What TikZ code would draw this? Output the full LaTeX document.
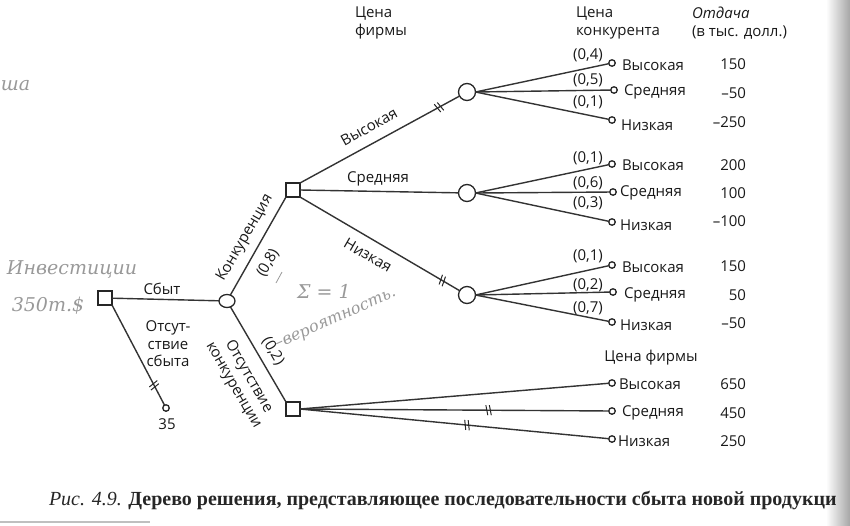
\documentclass[tikz,border=0pt]{standalone}
\usepackage{fontspec}
\setmainfont{Open Sans}
\newfontfamily\capfont{Liberation Serif}
\newfontfamily\handfont{DejaVu Serif}
\usetikzlibrary{shapes.geometric,decorations.markings}
\tikzset{
  every node/.style={inner sep=0pt, outer sep=0pt},
  txt/.style={font=\fontsize{15}{17.5}\selectfont, text=black!90},
  dec/.style={draw=black!85, rectangle, minimum size=14pt, line width=1.3pt},
  chance/.style={draw=black!85, circle, minimum size=17pt, line width=1.3pt},
  leaf/.style={draw=black!85, circle, minimum size=6.5pt, line width=1.3pt},
  br/.style={line width=1.4pt, draw=black!80},
  hash/.style={postaction={decorate, decoration={markings, mark=at position #1 with {\draw[line width=1pt, black!85] (-2.5,-5)--(-0.5,5) (1,-5)--(3,5);}}}},
  hand/.style={text=black!40, font=\handfont\itshape\fontsize{19}{22}\selectfont},
}
\begin{document}
\begin{tikzpicture}[x=1pt,y=-1pt]
\useasboundingbox (0,0) rectangle (850,525);
\shade[left color=white, right color=black!35] (826,0) rectangle (850,525);

% headers
\node[txt, anchor=west, align=left] (h1) at (355,23) {Цена\\фирмы};
\node[txt, anchor=west, align=left] (h2) at (576,23) {Цена\\конкурента};
\node[txt, anchor=west, align=left] (h3) at (692,23) {\itshape Отдача\\(в тыс. долл.)};

% main nodes
\node[dec] (root) at (105,298) {};
\node[draw=black!85, ellipse, minimum width=16pt, minimum height=13pt, line width=1.3pt] (s1) at (227,301) {};
\node[leaf] (l35) at (166,408) {};
\node[txt] (v35) at (167,424) {35};
\node[dec] (comp) at (293,190) {};
\node[dec] (nc) at (293,409) {};
\node[chance] (c1) at (467,92) {};
\node[chance] (c2) at (467,193) {};
\node[chance] (c3) at (467,295) {};

% leaves
\node[leaf] (l11) at (612,63) {};
\node[leaf] (l12) at (614,90) {};
\node[leaf] (l13) at (612,120) {};
\node[leaf] (l21) at (612,164) {};
\node[leaf] (l22) at (613,192) {};
\node[leaf] (l23) at (612,222) {};
\node[leaf] (l31) at (612,265) {};
\node[leaf] (l32) at (613,292) {};
\node[leaf] (l33) at (612,322) {};
\node[leaf] (n1) at (612,383) {};
\node[leaf] (n2) at (612,411) {};
\node[leaf] (n3) at (612,439) {};

% connectors
\draw[br] (root) -- (s1);
\draw[br, hash=0.8] (root.south east) -- (l35);
\draw[br] (s1) -- (comp.south west);
\draw[br] (s1) -- (nc.north west);
\draw[br, hash=0.87] (comp.north east) -- (c1);
\draw[br] (comp.east) -- (c2);
\draw[br, hash=0.89] (comp.south east) -- (c3);
\foreach \i in {1,2,3}{
  \draw[br] (c\i.east) -- (l\i1);
  \draw[br] (c\i.east) -- (l\i2);
  \draw[br] (c\i.east) -- (l\i3);
}
\draw[br] (nc.east) -- (n1);
\draw[br, hash=0.61] (nc.east) -- (n2);
\draw[br, hash=0.54] (nc.east) -- (n3);

% branch labels
\node[txt] (bsb) at (162,289) {Сбыт};
\node[txt, align=center] (bno) at (168,344) {Отсут-\\ствие\\сбыта};
\node[txt, rotate=60] (bk) at (245,238) {Конкуренция};
\node[txt, rotate=60] (p08) at (268,263) {(0,8)};
\node[txt, rotate=-60, align=center] (bnk) at (241,381) {Отсутствие\\конкуренции};
\node[txt, rotate=-60] (p02) at (273,351) {(0,2)};
\node[txt, rotate=29] (bv) at (369,127) {Высокая};
\node[txt] (bs) at (378,179) {Средняя};
\node[txt, rotate=-30] (bn) at (368,255) {Низкая};

% probabilities
\node[txt] (p11) at (588,55) {(0,4)};
\node[txt] (p12) at (588,80) {(0,5)};
\node[txt] (p13) at (588,102) {(0,1)};
\node[txt] (p21) at (588,158) {(0,1)};
\node[txt] (p22) at (588,183) {(0,6)};
\node[txt] (p23) at (588,203) {(0,3)};
\node[txt] (p31) at (588,256) {(0,1)};
\node[txt] (p32) at (588,285) {(0,2)};
\node[txt] (p33) at (588,308) {(0,7)};

% outcome labels
\node[txt, anchor=west] (t11) at (622,65) {Высокая};
\node[txt, anchor=west] (t12) at (624,92) {Средняя};
\node[txt, anchor=west] (t13) at (621,125) {Низкая};
\node[txt, anchor=west] (t21) at (622,165) {Высокая};
\node[txt, anchor=west] (t22) at (620,193) {Средняя};
\node[txt, anchor=west] (t23) at (620,225) {Низкая};
\node[txt, anchor=west] (t31) at (622,267) {Высокая};
\node[txt, anchor=west] (t32) at (624,295) {Средняя};
\node[txt, anchor=west] (t33) at (620,325) {Низкая};
\node[txt] (hnc) at (651,358) {Цена фирмы};
\node[txt, anchor=west] (tn1) at (619,384) {Высокая};
\node[txt, anchor=west] (tn2) at (622,413) {Средняя};
\node[txt, anchor=west] (tn3) at (618,441) {Низкая};

% payoffs
\node[txt, anchor=east] (v11) at (746,64) {150};
\node[txt, anchor=east] (v12) at (746,93) {–50};
\node[txt, anchor=east] (v13) at (746,122) {–250};
\node[txt, anchor=east] (v21) at (746,165) {200};
\node[txt, anchor=east] (v22) at (746,193) {100};
\node[txt, anchor=east] (v23) at (746,221) {–100};
\node[txt, anchor=east] (v31) at (746,266) {150};
\node[txt, anchor=east] (v32) at (746,295) {50};
\node[txt, anchor=east] (v33) at (746,323) {–50};
\node[txt, anchor=east] (vn1) at (746,384) {650};
\node[txt, anchor=east] (vn2) at (746,413) {450};
\node[txt, anchor=east] (vn3) at (746,441) {250};

% handwriting
\node[hand] (w1) at (72,270) {Инвестиции};
\node[hand] (w2) at (48,306) {350т.\$};
\node[hand, font=\handfont\itshape\fontsize{19}{22}\selectfont] (w3) at (324,291) {Σ = 1};
\node[hand, rotate=24, font=\handfont\itshape\fontsize{16}{18}\selectfont] (w4) at (336,320) {–вероятность.};
\node[hand, anchor=west] (w5) at (1,86) {ша};
\draw[black!40, line width=0.8pt] (276,283) -- (282,272);
\draw[black!25, line width=1.2pt] (0,522) -- (150,522);

% caption
\node[anchor=west, text=black!85, font=\capfont\fontsize{20}{22}\selectfont] (cap) at (49,500)
  {\textit{Рис. 4.9.} \textbf{Дерево решения, представляющее последовательности сбыта новой продукци}};
\end{tikzpicture}
\end{document}
